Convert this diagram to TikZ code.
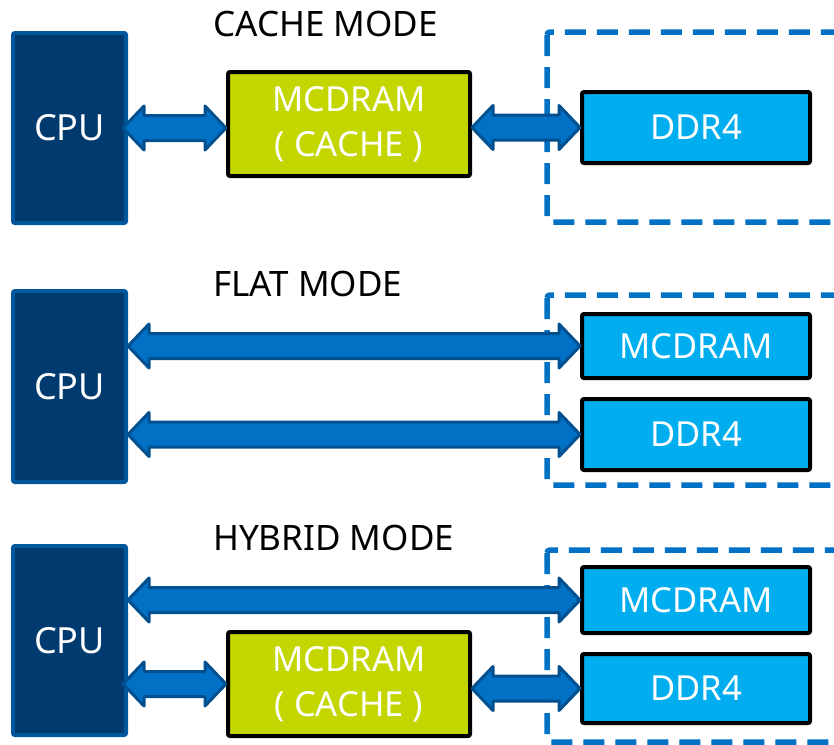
\documentclass[tikz,border=0pt]{standalone}
\usepackage{fontspec}
\setmainfont{Noto Sans}
\usetikzlibrary{calc}

\definecolor{cpufill}{HTML}{003A6E}
\definecolor{cpuedge}{HTML}{00579B}
\definecolor{busfill}{HTML}{0071C5}
\definecolor{busedge}{HTML}{00508F}
\definecolor{cachefill}{HTML}{C4D600}
\definecolor{memfill}{HTML}{00AEEF}
\definecolor{dashblue}{HTML}{0071C5}

\tikzset{
  cpubox/.style={draw=cpuedge, fill=cpufill, line width=4pt, rounded corners=2pt,
    text=white, font=\fontsize{36}{40}\selectfont, inner sep=0pt},
  cachebox/.style={draw=black, fill=cachefill, line width=4pt, rounded corners=2pt,
    text=white, align=center, font=\fontsize{34.5}{45}\selectfont, inner sep=0pt},
  membox/.style={draw=black, fill=memfill, line width=4pt, rounded corners=2pt,
    text=white, font=\fontsize{34.5}{40}\selectfont, inner sep=0pt},
  modetitle/.style={anchor=west, font=\fontsize{35}{40}\selectfont, inner sep=0pt},
  bus/.style={draw=busedge, fill=busfill, line width=3pt, line join=round},
  group/.style={draw=dashblue, line width=5.5pt, dash pattern=on 21pt off 11pt, rounded corners=3pt},
}

% double-headed bus arrow from the x of #1 to the x of #2, at the height of #2
\newcommand\busarrow[2]{%
  \draw[bus] let \p1=(#1), \p2=(#2) in
    (\x1,\y2) -- ({\x1+21pt},{\y2+22pt}) -- ({\x1+21pt},{\y2+12.5pt})
    -- ({\x2-21pt},{\y2+12.5pt}) -- ({\x2-21pt},{\y2+22pt}) -- (\x2,\y2)
    -- ({\x2-21pt},{\y2-22pt}) -- ({\x2-21pt},{\y2-12.5pt})
    -- ({\x1+21pt},{\y2-12.5pt}) -- ({\x1+21pt},{\y2-22pt}) -- cycle;}

\begin{document}
\begin{tikzpicture}[x=1pt, y=-1pt]
\useasboundingbox (0,0) rectangle (834,744);
\clip (0,0) rectangle (834,744);

% ---------- cache mode ----------
\node[modetitle] (t1) at (213,24) {CACHE MODE};
\draw[group] (547,32) rectangle (860,222);
\node[cpubox, minimum width=113, minimum height=190] (cpu1) at (69.5,128) {CPU};
\node[cachebox, minimum width=242, minimum height=104] (mc1) at (349,124) {MCDRAM\\( CACHE )};
\node[membox, minimum width=228, minimum height=71] (ddr1) at (696,127.5) {DDR4};
\busarrow{[xshift=-5pt]cpu1.east}{mc1.west |- cpu1.center}
\busarrow{mc1.east}{ddr1.west}

% ---------- flat mode ----------
\node[modetitle] (t2) at (213,284) {FLAT MODE};
\draw[group] (547,295) rectangle (860,485);
\node[cpubox, minimum width=113, minimum height=191] (cpu2) at (69.5,386.5) {CPU};
\node[membox, minimum width=228, minimum height=64] (mcf2) at (696,346) {MCDRAM};
\node[membox, minimum width=228, minimum height=71] (ddr2) at (696,434.5) {DDR4};
\busarrow{cpu2.east}{mcf2.west}
\busarrow{cpu2.east}{ddr2.west}

% ---------- hybrid mode ----------
\node[modetitle] (t3) at (213,538) {HYBRID MODE};
\draw[group] (547,550) rectangle (860,742);
\node[cpubox, minimum width=113, minimum height=189] (cpu3) at (69.5,640.5) {CPU};
\node[membox, minimum width=228, minimum height=66] (mcf3) at (696,600) {MCDRAM};
\node[membox, minimum width=228, minimum height=69] (ddr3) at (696,688.5) {DDR4};
\node[cachebox, minimum width=242, minimum height=104] (mc3) at (349,684) {MCDRAM\\( CACHE )};
\busarrow{cpu3.east}{mcf3.west}
\busarrow{[xshift=-5pt]cpu3.east}{mc3.west}
\busarrow{mc3.east}{ddr3.west}
\end{tikzpicture}
\end{document}
